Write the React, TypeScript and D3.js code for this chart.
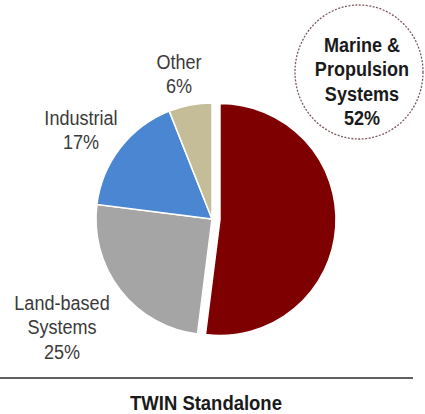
import { useEffect, useRef } from "react";
import * as d3 from "d3";

const segments = ["Marine & Propulsion Systems", "Land-based Systems", "Industrial", "Other"];
const shares = [52, 25, 17, 6];
const colors = ["#7f0000", "#a5a5a5", "#4a86d2", "#c5bd98"];
const labelLines = [
  ["Marine &", "Propulsion", "Systems", "52%"],
  ["Land-based", "Systems", "25%"],
  ["Industrial", "17%"],
  ["Other", "6%"],
];
const title = "TWIN Standalone";

type Slice = { name: string; value: number; color: string };

export default function App() {
  const ref = useRef<SVGSVGElement | null>(null);

  useEffect(() => {
    const svg = d3.select(ref.current);
    svg.selectAll("*").remove();

    const width = 425;
    const height = 414;
    const cx = 212;
    const cy = 219;
    const radius = 116;
    const explode = 8;
    const font = "'Liberation Sans', Arial, sans-serif";
    const squeeze = 0.86;

    svg.attr("viewBox", `0 0 ${width} ${height}`);
    svg.append("rect").attr("width", width).attr("height", height).attr("fill", "#fff");

    const data: Slice[] = segments.map((name, i) => ({ name, value: shares[i], color: colors[i] }));
    const pie = d3.pie<Slice>().value((d) => d.value).sort(null);
    const arc = d3.arc<d3.PieArcDatum<Slice>>().innerRadius(0).outerRadius(radius);

    const g = svg.append("g").attr("transform", `translate(${cx},${cy})`);
    g.selectAll("path")
      .data(pie(data))
      .enter()
      .append("path")
      .attr("d", arc as any)
      .attr("fill", (d) => d.data.color)
      .attr("stroke", "#fff")
      .attr("stroke-width", 1.5)
      .attr("transform", (d, i) => {
        if (i !== 0) return null;
        const mid = (d.startAngle + d.endAngle) / 2;
        return `translate(${Math.sin(mid) * explode},${-Math.cos(mid) * explode})`;
      });

    // dashed callout circle for the big slice
    svg.append("ellipse")
      .attr("cx", 359)
      .attr("cy", 72)
      .attr("rx", 64)
      .attr("ry", 67)
      .attr("fill", "none")
      .attr("stroke", "#7a5a5a")
      .attr("stroke-width", 1.3)
      .attr("stroke-dasharray", "2,1.5");

    const labelPos = [
      { x: 362, y: 52, bold: true },
      { x: 62, y: 310, bold: false },
      { x: 81, y: 125, bold: false },
      { x: 179, y: 69, bold: false },
    ];
    const lineH = 24.5;

    labelLines.forEach((lines, i) => {
      const p = labelPos[i];
      const t = svg.append("text")
        .attr("transform", `translate(${p.x},0) scale(${squeeze},1)`)
        .attr("text-anchor", "middle")
        .attr("font-family", font)
        .attr("font-size", 21)
        .attr("font-weight", p.bold ? 700 : 400)
        .attr("fill", p.bold ? "#1a1a1a" : "#3a3a3a");
      lines.forEach((s, k) => {
        t.append("tspan").attr("x", 0).attr("y", p.y + k * lineH).text(s);
      });
    });

    svg.append("line")
      .attr("x1", 0)
      .attr("x2", 413)
      .attr("y1", 378)
      .attr("y2", 378)
      .attr("stroke", "#606060")
      .attr("stroke-width", 2);

    svg.append("text")
      .attr("transform", `translate(206,0) scale(0.88,1)`)
      .attr("x", 0)
      .attr("y", 410)
      .attr("text-anchor", "middle")
      .attr("font-family", font)
      .attr("font-size", 21)
      .attr("font-weight", 700)
      .attr("fill", "#1a1a1a")
      .text(title);
  }, []);

  return (
    <svg
      ref={ref}
      width={425}
      height={414}
      style={{ position: "absolute", left: 0, top: 0, display: "block" }}
    />
  );
}
